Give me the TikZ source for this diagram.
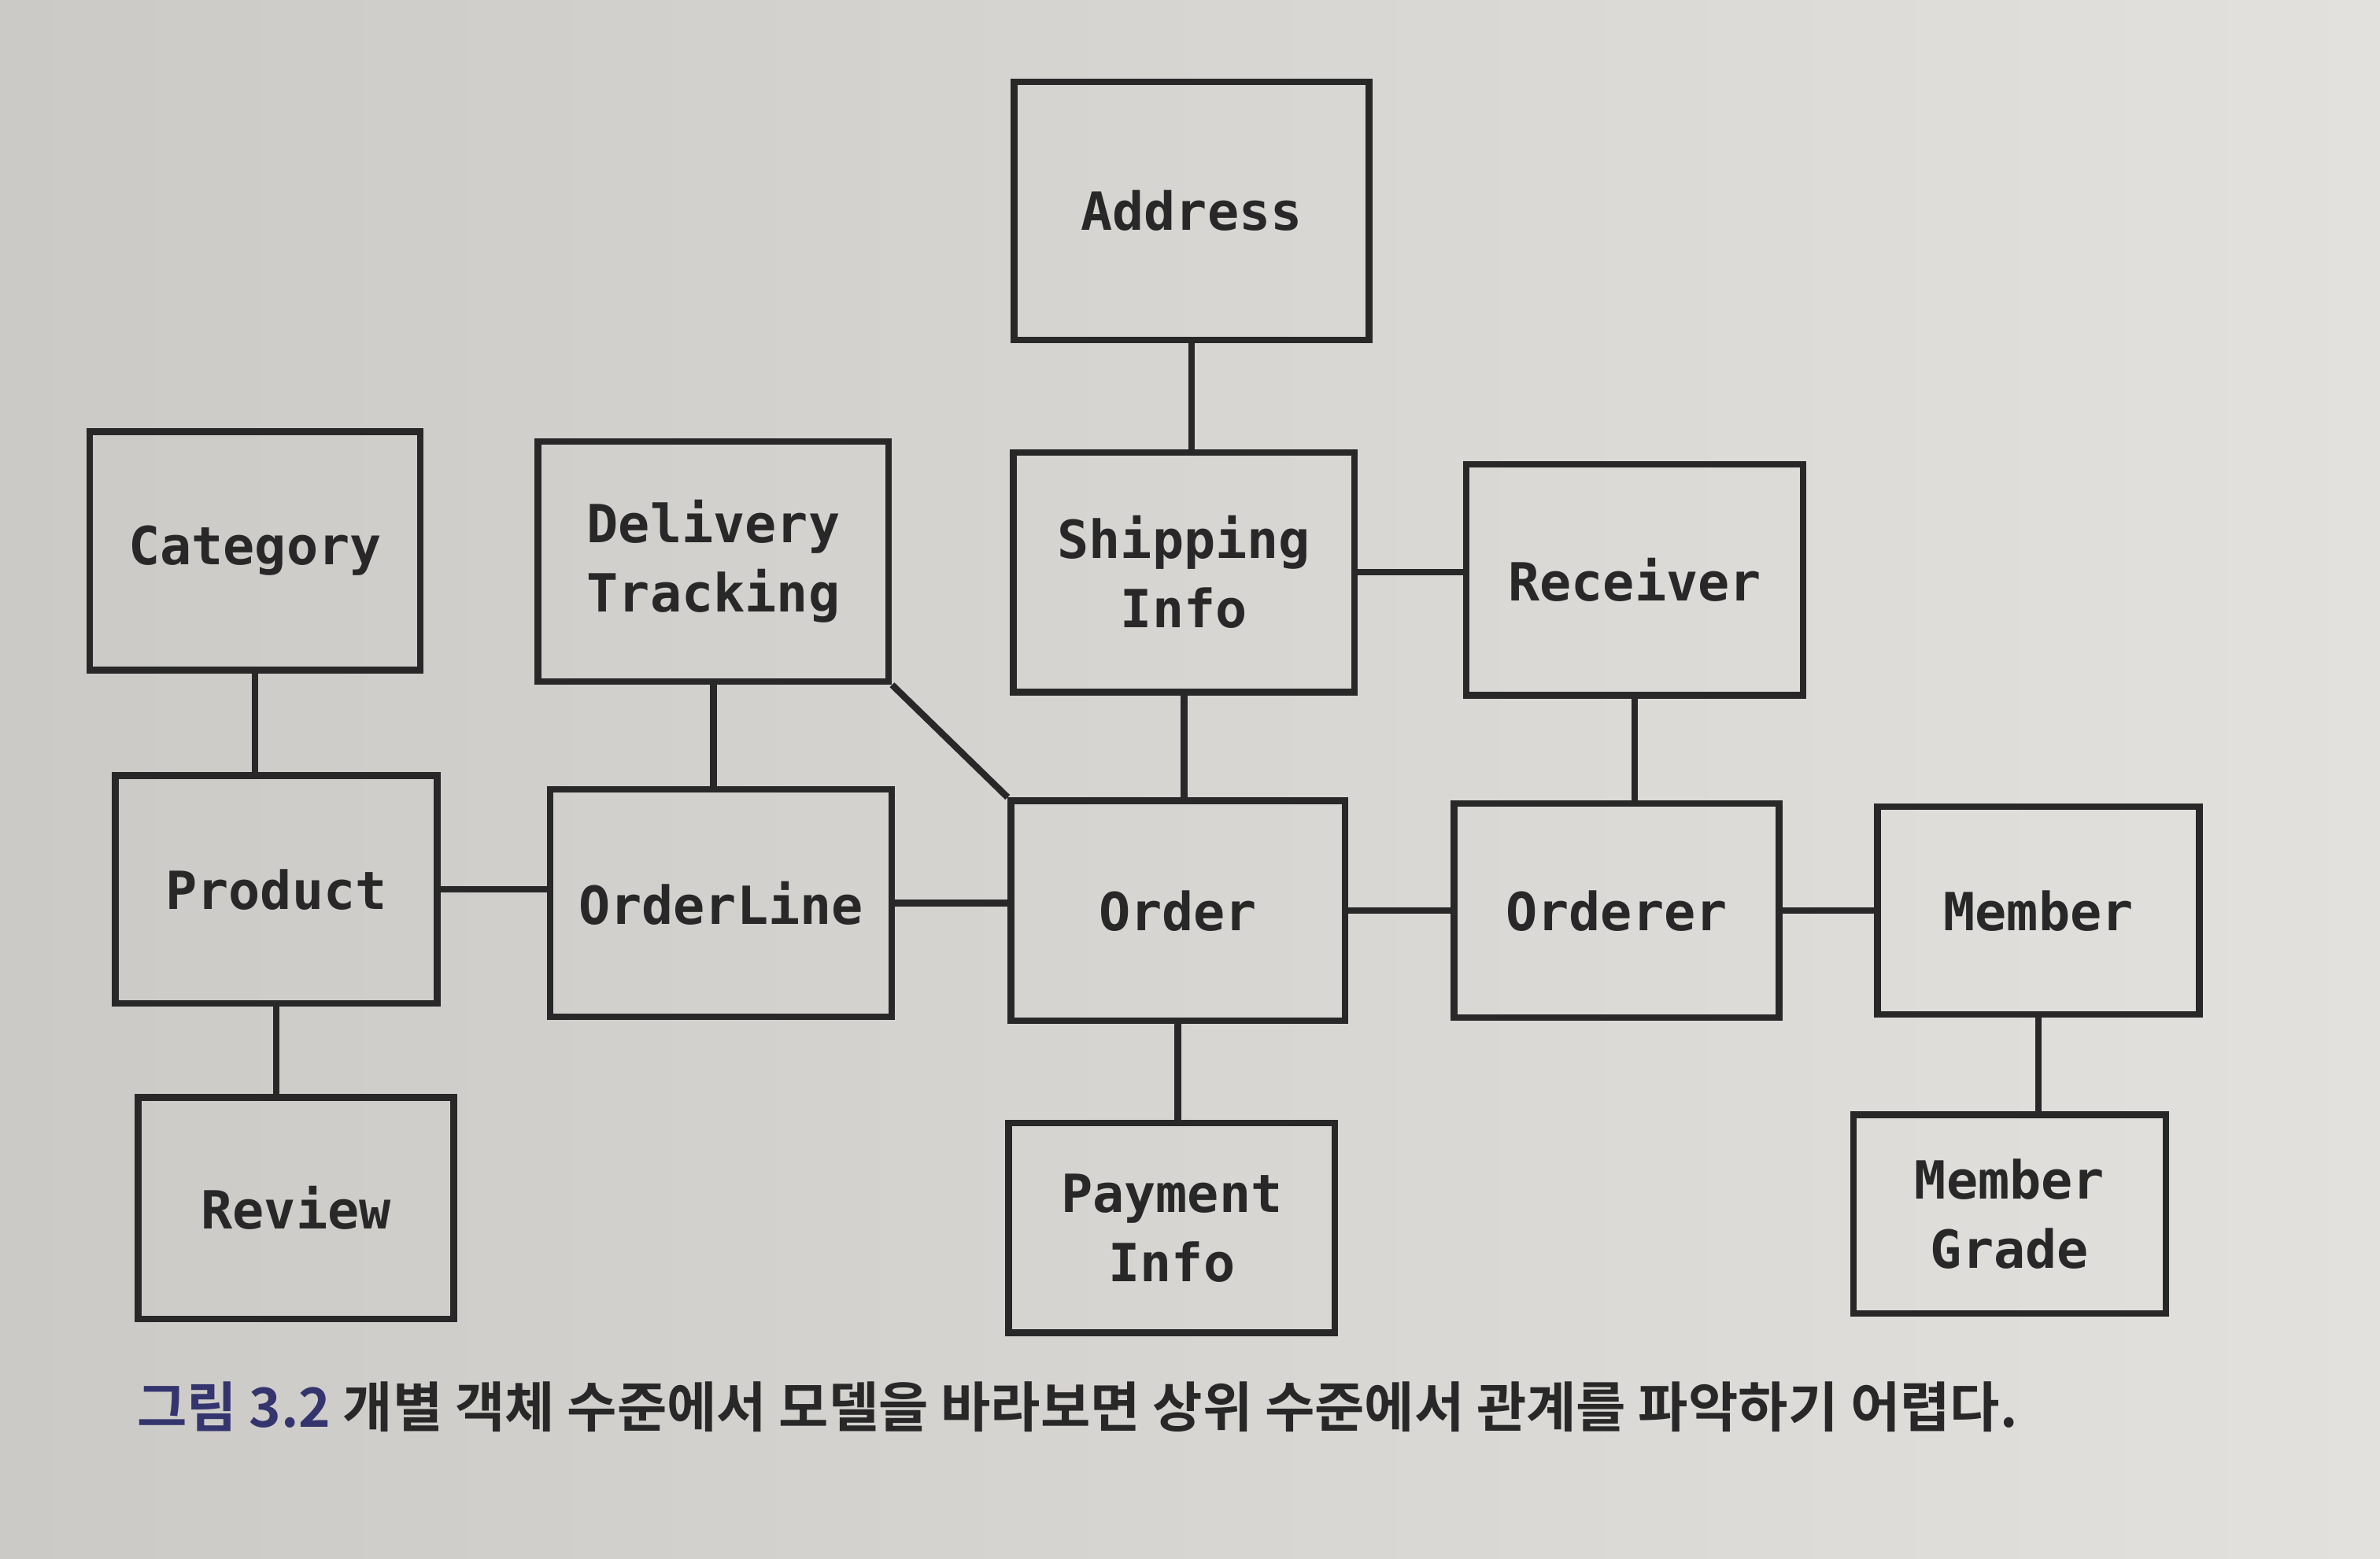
\documentclass[tikz,border=0pt]{standalone}
\usepackage{fontspec}
\setmonofont{DejaVu Sans Mono}
\newfontfamily\cjk{Noto Sans CJK KR}[BoldFont={* Bold}]
\definecolor{bgL}{RGB}{204,202,198}
\definecolor{bgR}{RGB}{226,225,222}
\definecolor{ink}{RGB}{40,40,40}
\definecolor{capblue}{RGB}{52,52,110}
\begin{document}
\begin{tikzpicture}[x=0.019286cm,y=-0.019286cm,
  ent/.style={draw=ink,line width=2.4pt,rectangle,align=center,inner sep=0pt,
     font=\ttfamily\bfseries\fontsize{19}{25}\selectfont,text=ink},
  link/.style={draw=ink,line width=2.4pt}]
\shade[left color=bgL,right color=bgR] (0,0) rectangle (1568,1027);
\useasboundingbox (0,0) rectangle (1568,1027);
\def\bx#1#2#3#4#5#6{\node[ent,minimum width=#4*0.019286cm,minimum height=#5*0.019286cm] (#1) at (#2,#3) {#6};}
\bx{addr}{785}{139}{234}{170}{Address}
\bx{cat}{168}{363}{218}{157}{Category}
\bx{dt}{470}{370}{231}{158}{Delivery\\Tracking}
\bx{ship}{780}{377}{225}{158}{Shipping\\Info}
\bx{recv}{1077}{382}{222}{152}{Receiver}
\bx{prod}{182}{586}{212}{150}{Product}
\bx{ol}{475}{595}{225}{150}{OrderLine}
\bx{ord}{776}{600}{220}{145}{Order}
\bx{orr}{1065}{600}{214}{141}{Orderer}
\bx{mem}{1343}{600}{212}{137}{Member}
\bx{rev}{195}{796}{208}{146}{Review}
\bx{pay}{772}{809}{215}{138}{Payment\\Info}
\bx{mg}{1324}{800}{206}{131}{Member\\Grade}
% connectors
\draw[link] (addr.south) -- (addr.south |- ship.north);
\draw[link] (cat.south) -- (cat.south |- prod.north);
\draw[link] (dt.south) -- (dt.south |- ol.north);
\draw[link] (dt.south east) -- (ord.north west);
\draw[link] (ship.south) -- (ship.south |- ord.north);
\draw[link] (ship.east) -- (ship.east -| recv.west);
\draw[link] (recv.south) -- (recv.south |- orr.north);
\draw[link] (prod.east) -- (prod.east -| ol.west);
\draw[link] (ol.east) -- (ol.east -| ord.west);
\draw[link] (ord.east) -- (ord.east -| orr.west);
\draw[link] (orr.east) -- (orr.east -| mem.west);
\draw[link] (prod.south) -- (prod.south |- rev.north);
\draw[link] (ord.south) -- (ord.south |- pay.north);
\draw[link] (mem.south) -- (mem.south |- mg.north);
% caption
\node[anchor=west,inner sep=0pt,font=\cjk\bfseries\fontsize{19.6}{24}\selectfont,text=ink] (cap) at (90,927)
  {\textcolor{capblue}{그림 3.2} 개별 객체 수준에서 모델을 바라보면 상위 수준에서 관계를 파악하기 어렵다.};
\end{tikzpicture}
\end{document}
